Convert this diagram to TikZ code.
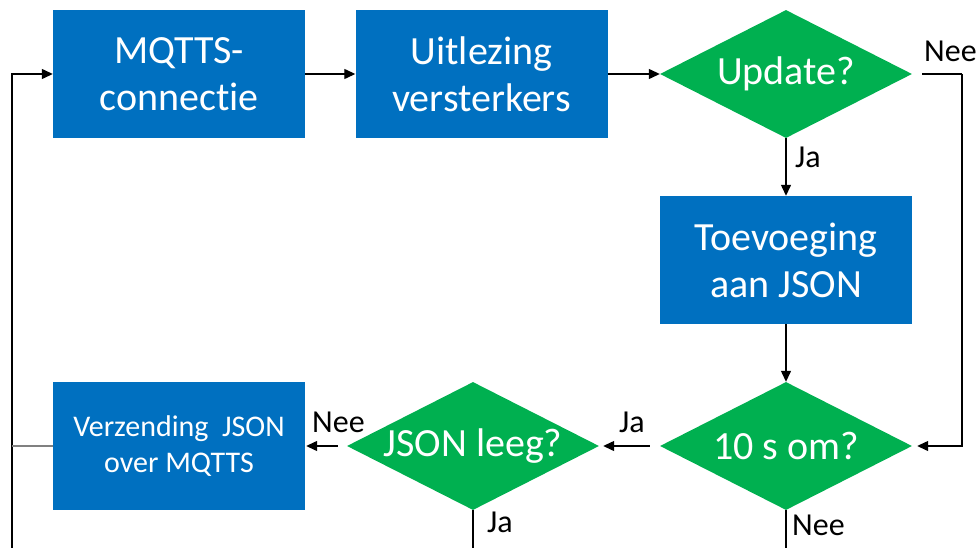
\documentclass[tikz,border=0pt]{standalone}
\usepackage{fontspec}
\setmainfont{Carlito}[RawFeature=-liga]
\usetikzlibrary{shapes.geometric,arrows.meta}
\definecolor{boxblue}{HTML}{0070C0}
\definecolor{decgreen}{HTML}{00B050}
\tikzset{
  x=1pt, y=1pt,
  stepbox/.style={rectangle, fill=boxblue, text=white, minimum width=252pt,
    minimum height=128pt, inner sep=0pt, align=center, font=\fontsize{40}{47}\selectfont},
  decision/.style={diamond, fill=decgreen, minimum width=252pt, minimum height=128pt,
    inner sep=0pt, label={[text=white, font=\fontsize{40}{47}\selectfont]center:#1}},
  flow/.style={line width=1.3pt, -{Triangle[length=11pt,width=10pt]}},
  plain/.style={line width=1.3pt},
  lbl/.style={font=\fontsize{32}{38}\selectfont, inner sep=0pt},
}
\begin{document}
\begin{tikzpicture}
\useasboundingbox (0,0) rectangle (977,-548);

% process steps
\node[stepbox] (mqtt) at (179,-74) {MQTTS-\\connectie};
\node[stepbox] (uit)  at (481.5,-74) {Uitlezing\\versterkers};
\node[stepbox] (toe)  at (786,-260) {Toevoeging\\aan JSON};
\node[stepbox, font=\fontsize{30}{36}\selectfont] (verz) at (179,-446) {Verzending~~JSON\\over MQTTS};

% decisions
\node[decision={Update?}]    (upd)  at (786,-74) {};
\node[decision={10 s om?}]   (tien) at (786,-446) {};
\node[decision={JSON leeg?}] (leeg) at (473,-446) {};

% loose ends
\coordinate (loopbot) at (12,-548);
\coordinate (nee1) at (962,-74);
\coordinate (leegbot) at (473,-548);
\coordinate (tienbot) at (786,-548);

% connectors
\draw[flow] (loopbot) |- (mqtt.west);
\draw[plain, gray] (verz.west) -- (verz.west -| loopbot);
\draw[flow] (mqtt.east) -- (uit.west);
\draw[flow] (uit.east) -- (upd.west);
\draw[flow] (upd.south) -- (toe.north);
\draw[plain, shorten <=10pt] (upd.east) -- (nee1);
\draw[flow, shorten >=5pt] (nee1) |- (tien.east);
\draw[flow] (toe.south) -- (tien.north);
\draw[flow, shorten <=10pt, shorten >=4pt] (tien.west) -- (leeg.east);
\draw[flow, shorten <=9pt, shorten >=1pt] (leeg.west) -- (verz.east);
\draw[plain] (leeg.south) -- (leegbot);
\draw[plain] (tien.south) -- (tienbot);

% branch labels
\node[lbl, anchor=base west] (lnee1) at (924,-62) {Nee};
\node[lbl, anchor=base west] (lja1)  at (795,-168) {Ja};
\node[lbl, anchor=base west] (lja2)  at (619,-432) {Ja};
\node[lbl, anchor=base west] (lnee2) at (312,-432) {Nee};
\node[lbl, anchor=base west] (lja3)  at (487,-532) {Ja};
\node[lbl, anchor=base west] (lnee3) at (792,-535) {Nee};
\end{tikzpicture}
\end{document}
